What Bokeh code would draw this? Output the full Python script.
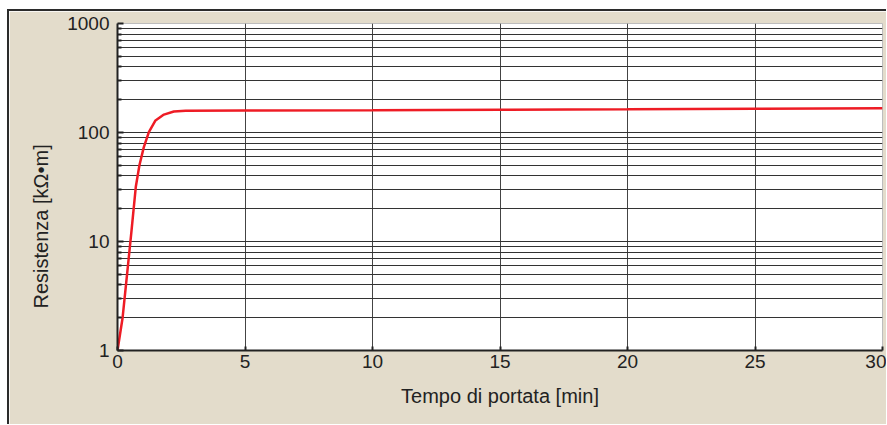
from bokeh.plotting import figure
from bokeh.models import Range1d, FixedTicker, PrintfTickFormatter, Title
from bokeh.embed import file_html
from bokeh.resources import INLINE

# data
t_min = [0, 0.2, 0.39, 0.55, 0.72, 0.86, 1.03, 1.23, 1.49, 1.82, 2.21, 2.67,
         5, 10, 15, 20, 25, 30]
res_kohm = [1, 2.0, 5.4, 12.6, 32, 50, 73, 101, 129, 146, 156, 158,
            159, 160, 162, 163, 165, 167]
x_ticks = [0, 5, 10, 15, 20, 25, 30]
y_ticks = [1, 10, 100, 1000]
y_minor = [m * d for d in (1, 10, 100) for m in range(2, 10)]

BG = "#e3dccb"
INK = "#222222"

p = figure(width=877, height=413, y_axis_type="log",
           x_range=Range1d(0, 30), y_range=Range1d(1, 1000),
           output_backend="svg", toolbar_location=None,
           min_border_left=108, min_border_right=4,
           min_border_top=12, min_border_bottom=74,
           frame_width=765, frame_height=327)
p.styles = {"border-top": "2px solid #2b2b2b", "border-left": "2px solid #2b2b2b",
            "margin-left": "7px", "margin-top": "9px"}
p.background_fill_color = "white"
p.border_fill_color = BG
p.outline_line_color = "#bdbdbd"
p.outline_line_width = 1

p.line(t_min, res_kohm, line_color="#ee1c25", line_width=2.5)

# x axis
p.xaxis.ticker = FixedTicker(ticks=x_ticks)
p.xaxis.axis_line_color = INK
p.xaxis.axis_line_width = 2
p.xaxis.major_tick_in = 4
p.xaxis.major_tick_out = 0
p.xaxis.major_tick_line_color = INK
p.xaxis.major_tick_line_width = 2
p.xaxis.minor_tick_line_color = None
p.xaxis.major_label_text_font = "Liberation Sans"
p.xaxis.major_label_text_font_size = "19px"
p.xaxis.major_label_text_color = INK
p.xaxis.major_label_standoff = 4
p.xaxis.axis_label = "Tempo di portata [min]"
p.xaxis.axis_label_text_font = "Liberation Sans"
p.xaxis.axis_label_text_font_size = "20px"
p.xaxis.axis_label_text_font_style = "normal"
p.xaxis.axis_label_text_color = INK
p.xaxis.axis_label_standoff = 14

# y axis
p.yaxis.ticker = FixedTicker(ticks=y_ticks, minor_ticks=y_minor)
p.yaxis.formatter = PrintfTickFormatter(format="%d")
p.yaxis.axis_line_color = INK
p.yaxis.axis_line_width = 2
p.yaxis.major_tick_in = 6
p.yaxis.major_tick_out = 0
p.yaxis.minor_tick_in = 4
p.yaxis.minor_tick_out = 0
p.yaxis.major_tick_line_color = INK
p.yaxis.major_tick_line_width = 2
p.yaxis.minor_tick_line_color = INK
p.yaxis.minor_tick_line_width = 2
p.yaxis.major_label_text_font = "Liberation Sans"
p.yaxis.major_label_text_font_size = "19px"
p.yaxis.major_label_text_color = INK
p.yaxis.major_label_standoff = 8

# grids
p.xgrid.grid_line_color = "#444444"
p.xgrid.grid_line_width = 1
p.ygrid.grid_line_color = "#333333"
p.ygrid.grid_line_width = 1
p.ygrid.minor_grid_line_color = "#333333"
p.ygrid.minor_grid_line_width = 1

ytitle = Title(text="Resistenza [kΩ•m]", align="left", offset=42,
               text_font="Liberation Sans", text_font_size="20px",
               text_font_style="normal", text_color=INK, standoff=25)
p.add_layout(ytitle, "left")

open("out.html", "w").write(file_html(p, INLINE))
